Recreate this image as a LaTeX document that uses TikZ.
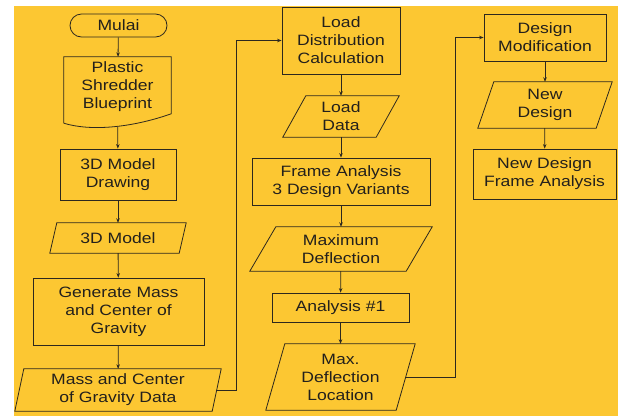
\documentclass[tikz,border=0pt]{standalone}
\usepackage{fontspec}
\setmainfont[FakeStretch=1.17]{Liberation Sans}
\usetikzlibrary{arrows.meta,calc}
\definecolor{bgyellow}{RGB}{252,199,50}
\definecolor{linecol}{RGB}{45,40,30}
\definecolor{txtcol}{RGB}{35,32,28}
\newcommand\drawpara[2]{\draw[shapeline] ($(#1.north west)+(#2,0)$) -- (#1.north east) -- ($(#1.south east)+(-#2,0)$) -- (#1.south west) -- cycle;}
\begin{document}
\begin{tikzpicture}[x=1pt,y=-1pt,
  shapeline/.style={draw=linecol,line width=0.8pt},
  base/.style={inner sep=0pt,align=center,text=txtcol,font=\fontsize{15}{18}\selectfont},
  box/.style={base,draw=linecol,line width=0.8pt},
  para/.style={base},
  arrow/.style={draw=linecol,line width=0.8pt,-{Stealth[length=4.5pt,width=3.5pt]}}
]
\useasboundingbox (0,0) rectangle (618,416);
\fill[white] (0,0) rectangle (618,416);
\fill[bgyellow] (14,6) rectangle (618,416);

% column 1
\node[box,rounded corners=11.5pt,minimum width=97pt,minimum height=23pt] (mulai) at (118.5,25.5) {Mulai};
\node[base,minimum width=107pt,minimum height=70pt] (blueprint) at (117.5,92) {};
\node[base] (blueprinttext) at (117.5,87) {Plastic\\Shredder\\Blueprint};
\draw[shapeline] ($(blueprint.south west)+(0,-4)$) -- (blueprint.north west) -- (blueprint.north east) -- ($(blueprint.north east)+(0,57)$)
  .. controls ($(blueprint.south east)+(-41,1)$) and ($(blueprint.south west)+(26,4)$) .. ($(blueprint.south west)+(0,-4)$);
\node[box,minimum width=116pt,minimum height=51pt] (drawing) at (118,174.5) {3D Model\\Drawing};
\node[para,minimum width=136pt,minimum height=30pt] (model) at (118,238) {3D Model};
\drawpara{model}{7}
\node[box,minimum width=171pt,minimum height=67pt] (generate) at (118.5,311.5) {Generate Mass\\and Center of\\Gravity};
\node[para,minimum width=206pt,minimum height=42pt] (massdata) at (118,390) {Mass and Center\\of Gravity Data};
\drawpara{massdata}{9}

% column 2
\node[box,minimum width=118pt,minimum height=67pt] (loaddist) at (341,40.5) {Load\\Distribution\\Calculation};
\node[para,minimum width=116pt,minimum height=41pt] (loaddata) at (341,116.5) {Load\\Data};
\drawpara{loaddata}{23}
\node[box,minimum width=178pt,minimum height=47pt] (frame) at (341,181.5) {Frame Analysis\\3 Design Variants};
\node[para,minimum width=182pt,minimum height=44pt] (maxdef) at (341,249) {Maximum\\Deflection};
\drawpara{maxdef}{26}
\node[box,minimum width=137pt,minimum height=29pt] (analysis) at (340.5,307.5) {Analysis \#1};
\node[para,minimum width=149pt,minimum height=66pt] (maxloc) at (340.5,377) {Max.\\Deflection\\Location};
\drawpara{maxloc}{19}

% column 3
\node[box,minimum width=122pt,minimum height=47pt] (designmod) at (545,37.5) {Design\\Modification};
\node[para,minimum width=134pt,minimum height=46pt] (newdesign) at (545,105) {New\\Design};
\drawpara{newdesign}{16}
\node[box,minimum width=143pt,minimum height=50pt] (newframe) at (544.5,174) {New Design\\Frame Analysis};

% connectors
\draw[arrow] (mulai) -- (blueprint);
\draw[arrow] (blueprint) -- (drawing);
\draw[arrow] (drawing) -- (model);
\draw[arrow] (model) -- (generate);
\draw[arrow] (generate) -- (massdata);
\draw[arrow] ($(massdata.east)+(-4.5,0)$) -- ++(19.5,0) |- (loaddist.west);
\draw[arrow] (loaddist) -- (loaddata);
\draw[arrow] (loaddata) -- (frame);
\draw[arrow] (frame) -- (maxdef);
\draw[arrow] (maxdef) -- (analysis);
\draw[arrow] (analysis) -- (maxloc);
\draw[arrow] ($(maxloc.east)+(-9.5,0)$) -- ++(49.5,0) |- (designmod.west);
\draw[arrow] (designmod) -- (newdesign);
\draw[arrow] (newdesign) -- (newframe);
\end{tikzpicture}
\end{document}
